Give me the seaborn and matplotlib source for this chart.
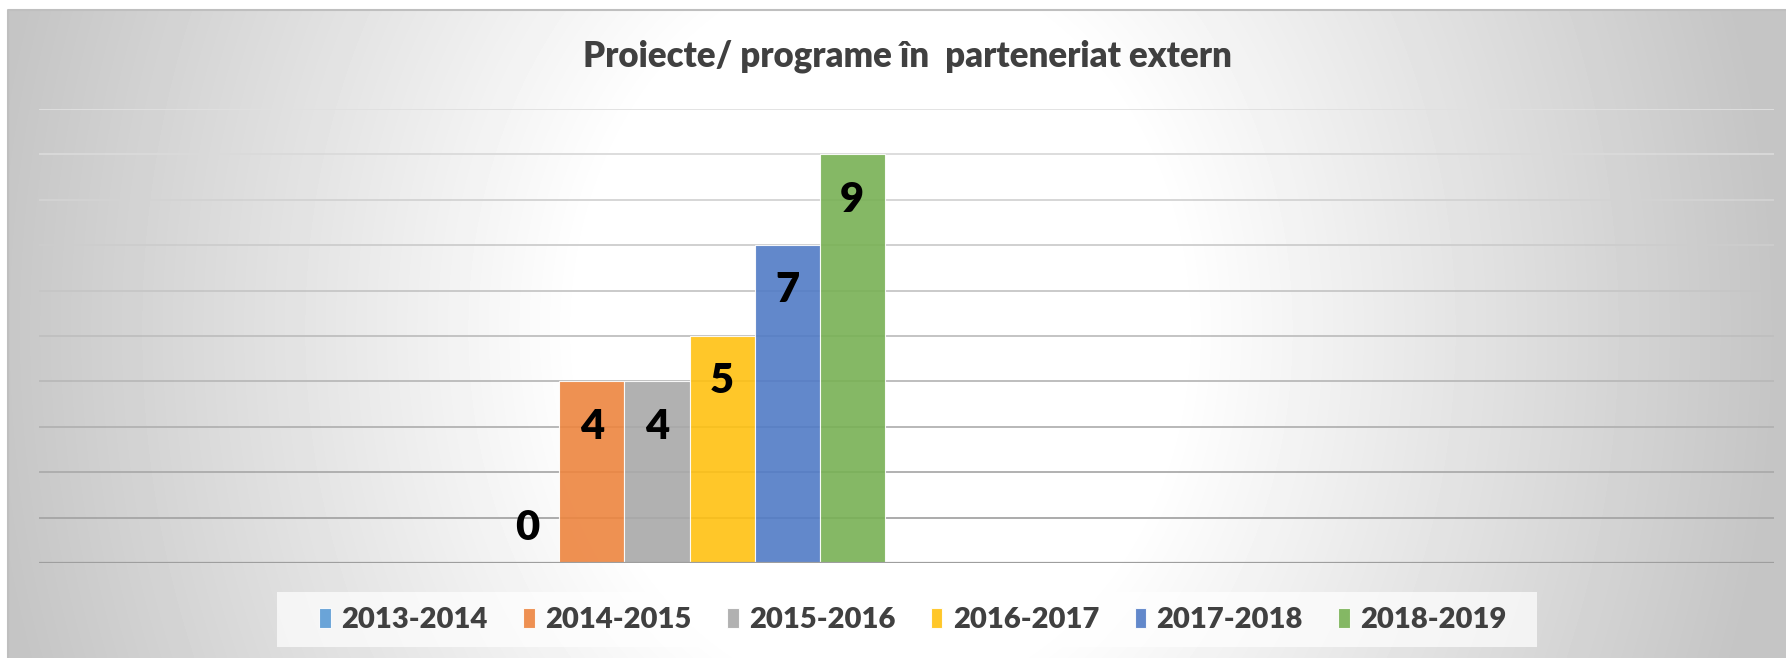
import numpy as np
import pandas as pd
import matplotlib
matplotlib.use("Agg")
import matplotlib.pyplot as plt
import seaborn as sns
from matplotlib.patches import Rectangle

sns.set_theme(style="white")
plt.rcParams["font.family"] = ["Lato", "DejaVu Sans"]

# date
categorie = ["Proiecte"]
ani = ["2013-2014", "2014-2015", "2015-2016", "2016-2017", "2017-2018", "2018-2019"]
valori = [0, 4, 4, 5, 7, 9]
culori = ["#5B9BD5", "#ED853F", "#A9A9A9", "#FFC112", "#517BC6", "#78B154"]
grila_y = list(range(0, 11))

df = pd.DataFrame({"categorie": categorie * len(ani), "an": ani, "valoare": valori})

W, H = 1786, 658
fig = plt.figure(figsize=(W / 100, H / 100), dpi=100)

# fundal cu gradient radial
bg = fig.add_axes([0, 0, 1, 1], zorder=-2)
bg.set_xlim(0, W)
bg.set_ylim(H, 0)
bg.axis("off")
xx, yy = np.meshgrid(np.arange(8, W), np.arange(10, H))
r = np.sqrt(((xx - 880) / 1000) ** 2 + ((yy - 330) / 1200) ** 2)
v = 1 - 0.23 * np.clip((r - 0.3) / 0.6, 0, 1)
bg.imshow(v, cmap="gray", vmin=0, vmax=1, extent=[8, W, H, 10], aspect="auto",
          interpolation="bilinear")
bg.plot([8, 8, W], [H, 10, 10], color="#bfbfbf", lw=1.5)
bg.add_patch(Rectangle((277, 592), 1260, 55, facecolor="white", alpha=0.7, edgecolor="none"))

# grafic
ax = fig.add_axes([39 / W, (H - 563) / H, (1774 - 39) / W, (563 - 109) / H])
ax.patch.set_alpha(0)

sns.barplot(data=df, x="categorie", y="valoare", hue="an", palette=culori, saturation=1,
            alpha=0.9, edgecolor="white", linewidth=0.8, ax=ax, zorder=3)

n = len(grila_y)
for i, y in enumerate(grila_y):
    t = i / (n - 1)
    c = (0.62 + 0.26 * t,) * 3
    ax.axhline(y, color=c, lw=1.3 if y else 1.6, zorder=1 if y else 4)

for cont in ax.containers:
    for bar in cont:
        h = bar.get_height()
        ax.annotate(f"{h:.0f}", (bar.get_x() + bar.get_width() / 2, h),
                    xytext=(0, -32.5 if h > 0 else 25), textcoords="offset points",
                    ha="center", va="center", fontsize=30, fontweight="heavy",
                    color="black", zorder=5)

ax.set_xlim(-1.333, 2.222)
ax.set_ylim(0, 10)
ax.set_xticks([])
ax.set_yticks([])
ax.set_xlabel("")
ax.set_ylabel("")
for s in ax.spines.values():
    s.set_visible(False)

handles, labels = ax.get_legend_handles_labels()
if ax.get_legend() is not None:
    ax.get_legend().remove()
fig.legend(handles, labels, loc="center", bbox_to_anchor=(913 / W, 1 - 620 / H), ncol=6,
           frameon=False, prop={"size": 21, "weight": "heavy"}, labelcolor="#404040",
           handlelength=0.4, handleheight=0.7, handletextpad=0.35, columnspacing=1.22)

fig.text(907 / W, 1 - 56 / H, "Proiecte/ programe în  parteneriat extern", ha="center",
         va="center", fontsize=25, fontweight="heavy", color="#404040")

fig.savefig("out.png", dpi=100)
